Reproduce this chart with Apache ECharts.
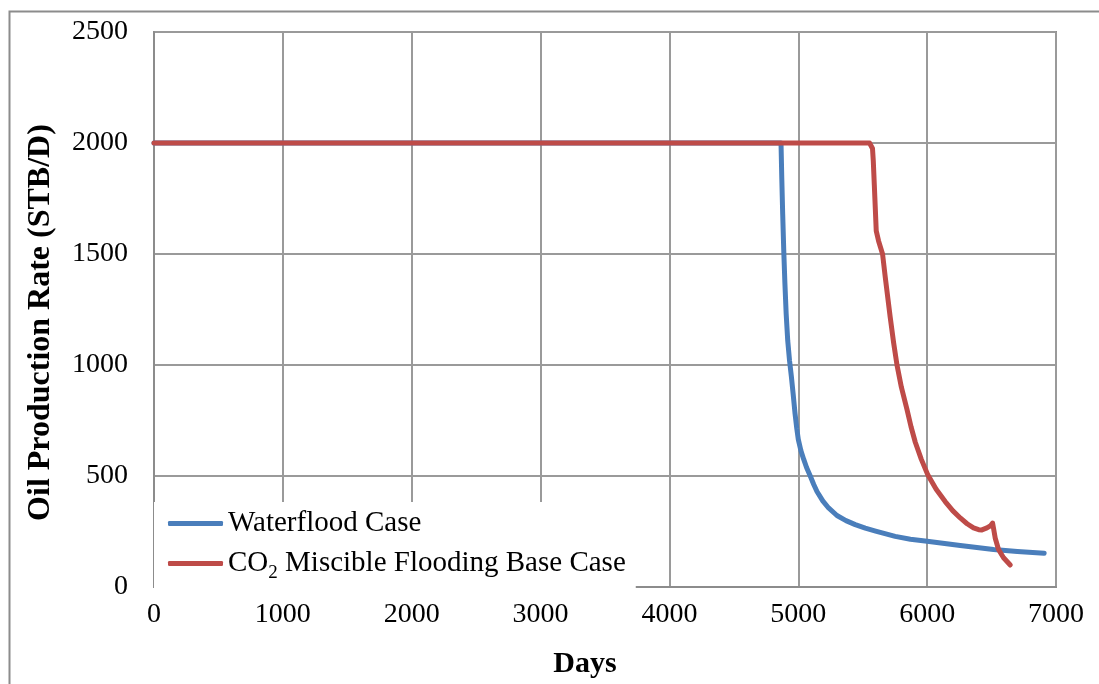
<!DOCTYPE html>
<html>
<head>
<meta charset="utf-8">
<title>Oil Production Rate</title>
<script src="https://cdn.jsdelivr.net/npm/echarts@6/dist/echarts.min.js"></script>
<style>
  html, body { margin: 0; padding: 0; background: #fff; }
  #chart { width: 1099px; height: 684px; }
</style>
</head>
<body>
<div id="chart"></div>
<script>
// Axis ticks
const xTicks = [0, 1000, 2000, 3000, 4000, 5000, 6000, 7000];
const yTicks = [0, 500, 1000, 1500, 2000, 2500];

// Waterflood case: [days, STB/D]
const waterflood = [
  [0, 2000], [4866, 2000], [4872, 1840], [4879, 1680], [4887, 1520],
  [4896, 1370], [4906, 1230], [4918, 1110], [4932, 1020], [4946, 950],
  [4960, 870], [4975, 780], [4988, 715], [5000, 665], [5020, 615],
  [5041, 577], [5065, 537], [5093, 500], [5120, 462], [5145, 430],
  [5190, 388], [5235, 356], [5300, 322], [5370, 299], [5442, 281],
  [5520, 265], [5600, 252], [5752, 228], [5870, 215], [6000, 206],
  [6257, 187], [6515, 169], [6700, 160], [6908, 152]
];

// CO2 miscible flooding base case: [days, STB/D]
const co2Flood = [
  [0, 2000], [5553, 2000], [5566, 1995], [5576, 1975], [5582, 1920],
  [5590, 1811], [5605, 1604], [5623, 1559], [5654, 1500], [5675, 1395],
  [5713, 1217], [5740, 1100], [5766, 1000], [5800, 900], [5843, 801],
  [5875, 722], [5908, 652], [5955, 575], [6006, 504], [6070, 440],
  [6140, 385], [6200, 343], [6257, 311], [6310, 285], [6360, 266],
  [6400, 258], [6425, 257], [6464, 266], [6490, 275], [6508, 288],
  [6515, 265], [6528, 221], [6554, 169], [6593, 132], [6645, 99]
];

const seriesNames = ['Waterflood Case', 'CO2 Miscible Flooding Base Case'];
const seriesColors = ['#4A7EBB', '#BE4B48'];

const chart = echarts.init(document.getElementById('chart'), null, { renderer: 'canvas' });

const serif = '"Liberation Serif", "Times New Roman", serif';
const plain = function (v) { return String(v); };

chart.setOption({
  backgroundColor: '#ffffff',
  animation: false,
  grid: {
    left: 154, top: 32, right: 43, bottom: 91,
    show: true, borderColor: '#8c8c8c', borderWidth: 2, backgroundColor: 'transparent'
  },
  graphic: [{
    type: 'rect',
    left: 7, top: 9,
    shape: { width: 1200, height: 800 },
    style: { fill: 'none', stroke: '#8c8c8c', lineWidth: 2 },
    silent: true, z: -1
  }],
  legend: {
    orient: 'vertical',
    left: 154, top: 502,
    padding: [7, 10, 12, 14],
    backgroundColor: '#ffffff',
    itemWidth: 55, itemHeight: 5, itemGap: 11,
    icon: 'roundRect',
    data: seriesNames,
    formatter: function (name) {
      if (name.indexOf('CO2') === 0) {
        return '{t|CO}{s|2}{t|' + name.slice(3) + '}';
      }
      return '{t|' + name + '}';
    },
    textStyle: {
      fontFamily: serif, fontSize: 29, color: '#000',
      rich: {
        t: { fontFamily: serif, fontSize: 29, color: '#000' },
        s: { fontFamily: serif, fontSize: 19, color: '#000', verticalAlign: 'bottom', padding: [20, 0, 0, 0] }
      }
    }
  },
  xAxis: {
    type: 'value',
    min: xTicks[0], max: xTicks[xTicks.length - 1], interval: 1000,
    name: 'Days',
    nameLocation: 'middle',
    nameGap: 62,
    nameTextStyle: { fontFamily: serif, fontSize: 30, fontWeight: 'bold', color: '#000', padding: [0, 40, 0, 0] },
    axisLine: { show: true, lineStyle: { color: '#8c8c8c', width: 2 } },
    axisTick: { show: false },
    axisLabel: { margin: 14, fontFamily: serif, fontSize: 28, color: '#000', formatter: plain },
    splitLine: { show: true, lineStyle: { color: '#9a9a9a', width: 2 } }
  },
  yAxis: {
    type: 'value',
    min: yTicks[0], max: yTicks[yTicks.length - 1], interval: 500,
    name: 'Oil Production Rate (STB/D)',
    nameLocation: 'middle',
    nameGap: 97,
    nameRotate: 90,
    nameTextStyle: { fontFamily: serif, fontSize: 32, fontWeight: 'bold', color: '#000', padding: [0, 26, 0, 0] },
    axisLine: { show: true, lineStyle: { color: '#8c8c8c', width: 2 } },
    axisTick: { show: false },
    axisLabel: { margin: 26, fontFamily: serif, fontSize: 28, color: '#000', formatter: plain },
    splitLine: { show: true, lineStyle: { color: '#9a9a9a', width: 2 } }
  },
  series: [
    {
      name: seriesNames[0], type: 'line', data: waterflood,
      showSymbol: false, smooth: false, z: 2,
      itemStyle: { color: seriesColors[0] },
      lineStyle: { color: seriesColors[0], width: 5, cap: 'round', join: 'round' }
    },
    {
      name: seriesNames[1], type: 'line', data: co2Flood,
      showSymbol: false, smooth: false, z: 3,
      itemStyle: { color: seriesColors[1] },
      lineStyle: { color: seriesColors[1], width: 5, cap: 'round', join: 'round' }
    }
  ]
});
</script>
</body>
</html>
